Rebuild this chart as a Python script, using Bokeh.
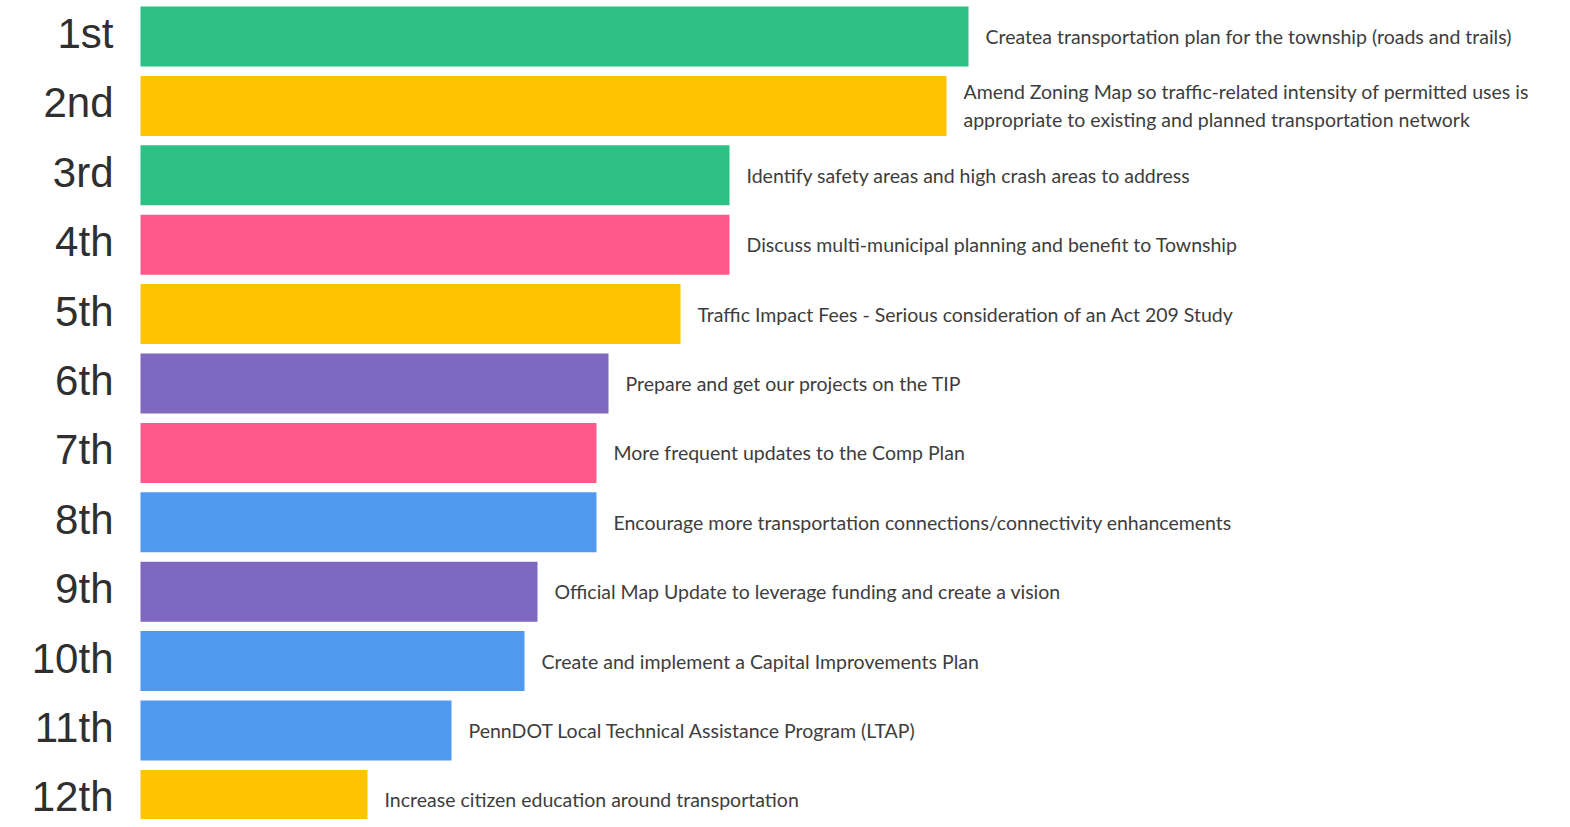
from bokeh.plotting import figure
from bokeh.models import ColumnDataSource, Range1d
from bokeh.core.properties import value
from bokeh.embed import file_html
from bokeh.resources import INLINE

ranks = ["1st", "2nd", "3rd", "4th", "5th", "6th", "7th", "8th", "9th", "10th", "11th", "12th"]
labels = [
    "Createa transportation plan for the township (roads and trails)",
    "Amend Zoning Map so traffic-related intensity of permitted uses is\nappropriate to existing and planned transportation network",
    "Identify safety areas and high crash areas to address",
    "Discuss multi-municipal planning and benefit to Township",
    "Traffic Impact Fees - Serious consideration of an Act 209 Study",
    "Prepare and get our projects on the TIP",
    "More frequent updates to the Comp Plan",
    "Encourage more transportation connections/connectivity enhancements",
    "Official Map Update to leverage funding and create a vision",
    "Create and implement a Capital Improvements Plan",
    "PennDOT Local Technical Assistance Program (LTAP)",
    "Increase citizen education around transportation",
]
scores = [82.8, 80.6, 58.9, 58.9, 54.0, 46.8, 45.6, 45.6, 39.7, 38.4, 31.1, 22.7]
colors = ["#2CC084", "#FFC300", "#2CC084", "#FF5A8A", "#FFC300", "#7E68C0",
          "#FF5A8A", "#4F99EF", "#7E68C0", "#4F99EF", "#4F99EF", "#FFC300"]

W, H = 1554, 819
rows = list(range(len(ranks)))
src = ColumnDataSource(dict(y=rows, score=scores, rank=ranks, label=labels,
                            color=colors, rank_x=[-2.7] * len(ranks)))

p = figure(width=W, height=H, output_backend="svg", toolbar_location=None,
           x_range=Range1d(-14.0, -14.0 + W / 10.0),
           y_range=Range1d((H - 36) / 69.4, -36 / 69.4),
           min_border=0, outline_line_color=None, background_fill_color="white")
p.axis.visible = False
p.grid.visible = False

p.hbar(y="y", left=0, right="score", height=0.865, fill_color="color",
       line_color=None, source=src)

p.text(x="score", y="y", text="label", source=src, x_offset=17,
       text_align="left", text_baseline="middle", text_font=value("Lato"),
       text_font_size="19.5px", text_color="#3d3d3d", text_line_height=1.22)

p.text(x="rank_x", y="y", text="rank", source=src, text_align="right",
       text_baseline="middle", text_font=value("Liberation Sans"),
       text_font_size="42px", text_color="#2f2f2f", y_offset=-3)

open("out.html", "w").write(file_html(p, INLINE))
